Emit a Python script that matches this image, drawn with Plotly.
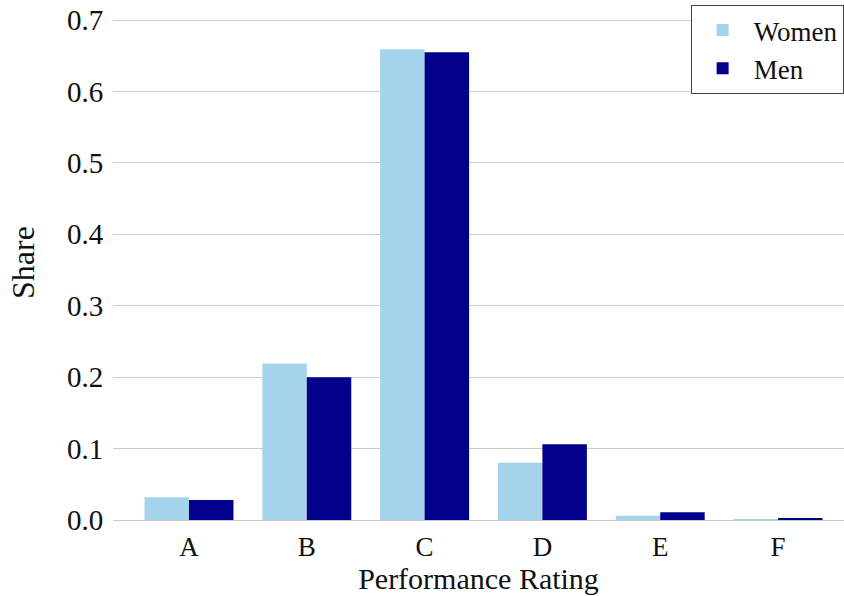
import plotly.graph_objects as go

categories = ["A", "B", "C", "D", "E", "F"]
women = [0.032, 0.219, 0.659, 0.080, 0.006, 0.001]
men = [0.028, 0.200, 0.655, 0.106, 0.011, 0.0015]
y_ticks = [0.0, 0.1, 0.2, 0.3, 0.4, 0.5, 0.6, 0.7]

FONT = "Liberation Serif"
CLEAR = "rgba(0,0,0,0)"

fig = go.Figure()
fig.add_trace(go.Bar(x=categories, y=women, name="Women", marker=dict(color="#A6D3EC", line=dict(width=0))))
fig.add_trace(go.Bar(x=categories, y=men, name="Men", marker=dict(color="#00008B", line=dict(width=0))))

fig.update_layout(
    width=844, height=596,
    margin=dict(l=113, r=0, t=5, b=76, autoexpand=False),
    paper_bgcolor="white", plot_bgcolor="white",
    barmode="group", bargap=0.245, bargroupgap=0,
    font=dict(family=FONT, size=29, color="#111111"),
    legend=dict(x=0.9995, y=1, xanchor="right", yanchor="top",
                bordercolor="#444444", borderwidth=1, bgcolor="white",
                font=dict(family=FONT, size=27), tracegroupgap=0, itemwidth=52),
    xaxis=dict(range=[-0.645, 5.56], showgrid=False, showline=False,
               ticks="outside", ticklen=3, tickcolor=CLEAR,
               title=dict(text="Performance Rating", standoff=6, font=dict(size=30)),
               tickfont=dict(size=27), automargin=False),
    yaxis=dict(range=[0, 0.721], tickvals=y_ticks, ticktext=[f"{v:.1f}" for v in y_ticks],
               showgrid=True, gridcolor="#CCCCCC", gridwidth=1,
               zeroline=True, zerolinecolor="#CCCCCC", zerolinewidth=1,
               showline=False, ticks="outside", ticklen=3, tickcolor=CLEAR,
               title=dict(text="Share", standoff=22, font=dict(size=32)),
               tickfont=dict(size=29), automargin=False),
)

fig.write_html("out.html", config={"displayModeBar": False},
               post_script="document.body.style.margin='0';document.body.style.overflow='hidden';")
